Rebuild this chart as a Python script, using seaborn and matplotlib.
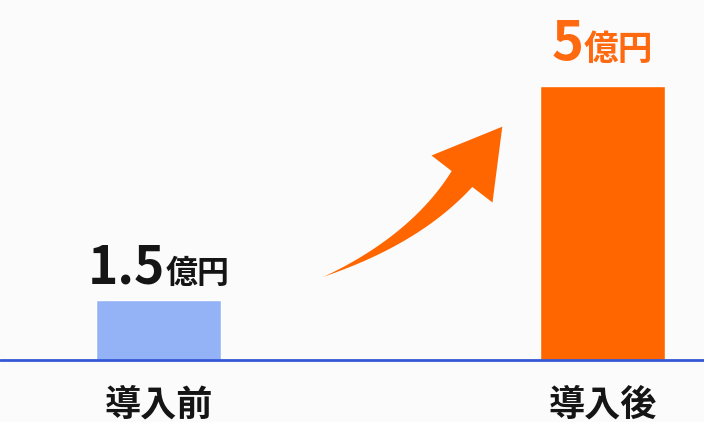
import matplotlib
matplotlib.use("Agg")
import matplotlib.pyplot as plt
import seaborn as sns
import pandas as pd
import numpy as np
from matplotlib.patches import Polygon

# data
stages = ["導入前", "導入後"]
amounts = [1.5, 5]          # 億円, shown in the labels
bar_heights = [1.1, 5.0]    # heights as drawn in the picture (not to scale)
unit = "億円"

bar_colors = ["#93b3f6", "#ff6600"]
label_colors = ["#151515", "#ff6a10"]
num_sizes = [37, 39]
unit_sizes = [23, 25]
label_gaps = [12, 19]

df = pd.DataFrame({"stage": stages, "height": bar_heights})

sns.set_theme(style="white")
plt.rcParams["font.family"] = ["Noto Sans CJK JP", "DejaVu Sans"]

bg = "#fbfbfb"
W, H = 704, 422
fig = plt.figure(figsize=(W / 100, H / 100), dpi=100)
fig.patch.set_facecolor(bg)
ax = fig.add_axes([0, 62 / H, 1, 360 / H])
ax.set_facecolor(bg)

sns.barplot(data=df, x="stage", y="height", hue="stage", palette=bar_colors,
            width=0.28, saturation=1, legend=False, ax=ax)

ax.set_xlim(-0.357, 1.2286)
ax.set_ylim(0, 6.569)
sns.despine(ax=ax, left=True, bottom=True)
ax.axhline(0, color="#3458d8", lw=2, clip_on=False)
ax.set_xlabel("")
ax.set_ylabel("")
ax.set_yticks([])
ax.tick_params(axis="x", length=0, pad=19)
for lab in ax.get_xticklabels():
    lab.set_fontsize(26)
    lab.set_fontweight("bold")
    lab.set_color("#151515")

# value labels: number + smaller unit, centred over each bar
fig.canvas.draw()
r = fig.canvas.get_renderer()
for i, (h, v) in enumerate(zip(bar_heights, amounts)):
    g = label_gaps[i]
    t1 = ax.annotate(f"{v:g}", (i, h), xytext=(0, g), textcoords="offset points",
                     ha="right", va="baseline", fontsize=num_sizes[i],
                     fontweight="bold", color=label_colors[i])
    t2 = ax.annotate(unit, (i, h), xytext=(0, g), textcoords="offset points",
                     ha="left", va="baseline", fontsize=unit_sizes[i],
                     fontweight="bold", color=label_colors[i])
    w1 = t1.get_window_extent(r).width * 72 / fig.dpi
    w2 = t2.get_window_extent(r).width * 72 / fig.dpi
    shift = (w1 - w2) / 2
    t1.set_position((shift, g))
    t2.set_position((shift, g))

# curved growth arrow (pixel geometry, y up): tapered shaft + triangular head
p0 = np.array([323.0, 145.0])
c = np.array([415.0, 182.0])
p2 = np.array([462.0, 243.0])
t = np.linspace(0, 1, 80)[:, None]
curve = (1 - t) ** 2 * p0 + 2 * (1 - t) * t * c + t ** 2 * p2
deriv = 2 * (1 - t) * (c - p0) + 2 * t * (p2 - c)
tang = deriv / np.linalg.norm(deriv, axis=1, keepdims=True)
norm = np.column_stack([-tang[:, 1], tang[:, 0]])
half = 13 * t ** 1.1
left = curve + norm * half
right = curve - norm * half
axis_dir, n_end = tang[-1], norm[-1]
tip = p2 + axis_dir * 66
barb_l = p2 + n_end * 38.5
barb_r = p2 - n_end * 38.5
pts = np.vstack([left, barb_l, tip, barb_r, right[::-1]])
pts = pts / np.array([W, H])
fig.patches.append(Polygon(pts, closed=True, transform=fig.transFigure,
                           facecolor="#ff6600", edgecolor="none"))

fig.savefig("out.png", dpi=100, facecolor=bg)
